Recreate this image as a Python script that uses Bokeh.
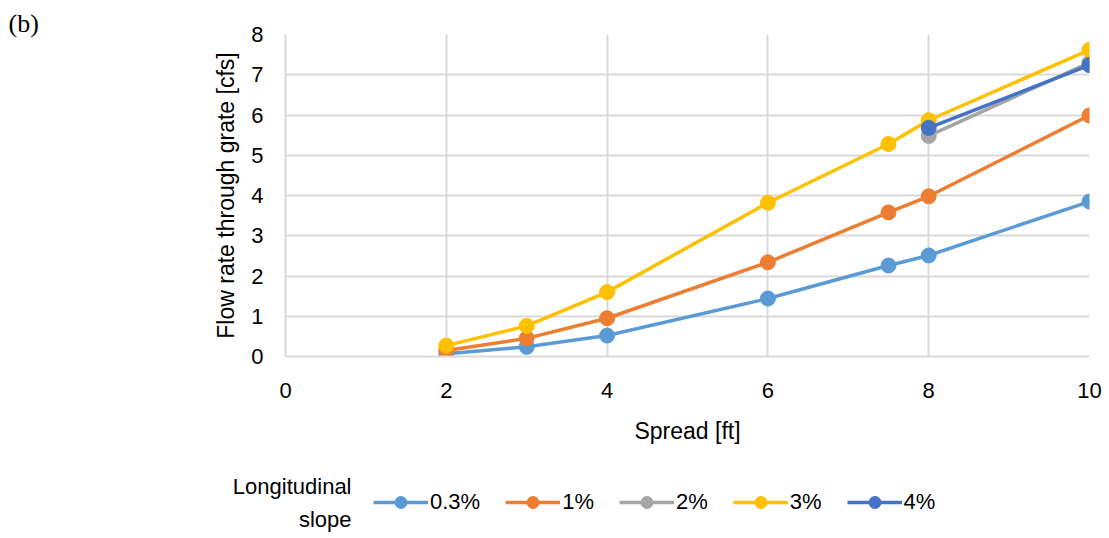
from bokeh.plotting import figure
from bokeh.models import Legend, LegendItem, Label, FixedTicker, Range1d
from bokeh.layouts import row, column
from bokeh.embed import file_html
from bokeh.resources import INLINE

FONT = "Liberation Sans"

series_names = ["0.3%", "1%", "2%", "3%", "4%"]
colors = ["#5B9BD5", "#ED7D31", "#A5A5A5", "#FFC000", "#4472C4"]

x_03 = [2, 3, 4, 6, 7.5, 8, 10]
y_03 = [0.07, 0.24, 0.52, 1.44, 2.26, 2.51, 3.85]
x_1 = [2, 3, 4, 6, 7.5, 8, 10]
y_1 = [0.15, 0.45, 0.95, 2.34, 3.58, 3.98, 5.99]
x_2 = [8, 10]
y_2 = [5.48, 7.30]
x_3 = [2, 3, 4, 6, 7.5, 8, 10]
y_3 = [0.27, 0.76, 1.60, 3.82, 5.28, 5.87, 7.62]
x_4 = [8, 10]
y_4 = [5.68, 7.24]

xs = [x_03, x_1, x_2, x_3, x_4]
ys = [y_03, y_1, y_2, y_3, y_4]

x_ticks = [0, 2, 4, 6, 8, 10]
y_ticks = [0, 1, 2, 3, 4, 5, 6, 7, 8]

LEFT_W = 60
MAIN_W = 1049
MAIN_H = 456
LEG_H = 82


def blank(width, height):
    f = figure(width=width, height=height, output_backend="svg", toolbar_location=None,
               x_range=Range1d(0, 1), y_range=Range1d(0, 1),
               x_axis_type=None, y_axis_type=None,
               min_border=0, min_border_left=0, min_border_right=0,
               min_border_top=0, min_border_bottom=0)
    f.outline_line_color = None
    f.xgrid.visible = False
    f.ygrid.visible = False
    f.frame_align = False
    return f


# ---- left strip with panel letter
left = blank(LEFT_W, MAIN_H + LEG_H)
left.add_layout(Label(x=8, y=MAIN_H + LEG_H - 23, x_units="screen", y_units="screen",
                      text="(b)", text_font="Liberation Serif", text_font_size="26px",
                      text_align="left", text_baseline="middle", text_color="#000000"))

# ---- main chart
p = figure(width=MAIN_W, height=MAIN_H, output_backend="svg", toolbar_location=None,
           x_range=Range1d(0, 10), y_range=Range1d(0, 8),
           min_border_left=285 - LEFT_W, min_border_right=MAIN_W - (1089 - LEFT_W),
           min_border_top=34, min_border_bottom=MAIN_H - 356)
p.frame_align = False
p.outline_line_color = None
grid_color = "#D9D9D9"
p.xgrid.ticker = FixedTicker(ticks=x_ticks)
p.ygrid.ticker = FixedTicker(ticks=y_ticks)
p.xgrid.grid_line_color = grid_color
p.ygrid.grid_line_color = grid_color
p.xgrid.grid_line_width = 2
p.ygrid.grid_line_width = 2

for ax in (p.xaxis[0], p.yaxis[0]):
    ax.major_tick_line_color = None
    ax.minor_tick_line_color = None
    ax.major_label_text_font = FONT
    ax.major_label_text_font_size = "22px"
    ax.major_label_text_color = "#000000"
    ax.axis_label_text_font = FONT
    ax.axis_label_text_font_size = "23px"
    ax.axis_label_text_font_style = "normal"
    ax.axis_label_text_color = "#000000"
    ax.axis_line_color = grid_color
    ax.axis_line_width = 2

p.xaxis.ticker = FixedTicker(ticks=x_ticks)
p.yaxis.ticker = FixedTicker(ticks=y_ticks)
p.xaxis.axis_label = "Spread [ft]"
p.yaxis.axis_label = "Flow rate through grate [cfs]"
p.xaxis.major_label_standoff = 20
p.yaxis.major_label_standoff = 16
p.xaxis.axis_label_standoff = 17
p.yaxis.axis_label_standoff = 9

for name, c, x, y in zip(series_names, colors, xs, ys):
    p.line(x, y, line_color=c, line_width=3.5)
    p.scatter(x, y, size=15, fill_color=c, line_color=c)

# ---- legend strip (proxies use the same series, outside this strip's visible range)
leg = blank(MAIN_W, LEG_H)
items = []
for name, c, x, y in zip(series_names, colors, xs, ys):
    l = leg.line(x, y, line_color=c, line_width=3.5)
    s = leg.scatter(x, y, size=12, fill_color=c, line_color=c)
    items.append(LegendItem(label=name, renderers=[l, s]))

legend = Legend(items=items, orientation="horizontal", location=(373 - LEFT_W, 21),
                label_text_font=FONT, label_text_font_size="22px",
                label_text_color="#000000",
                glyph_width=55, glyph_height=30, label_standoff=2, spacing=25,
                background_fill_alpha=0, border_line_color=None, padding=0, margin=0)
leg.add_layout(legend, "center")

for txt, yy in (("Longitudinal", 52), ("slope", 19)):
    leg.add_layout(Label(x=351 - LEFT_W, y=yy, x_units="screen", y_units="screen", text=txt,
                         text_font=FONT, text_font_size="22px", text_align="right",
                         text_baseline="middle", text_color="#000000"))

layout = row(left, column(p, leg))
open("out.html", "w").write(file_html(layout, INLINE))
